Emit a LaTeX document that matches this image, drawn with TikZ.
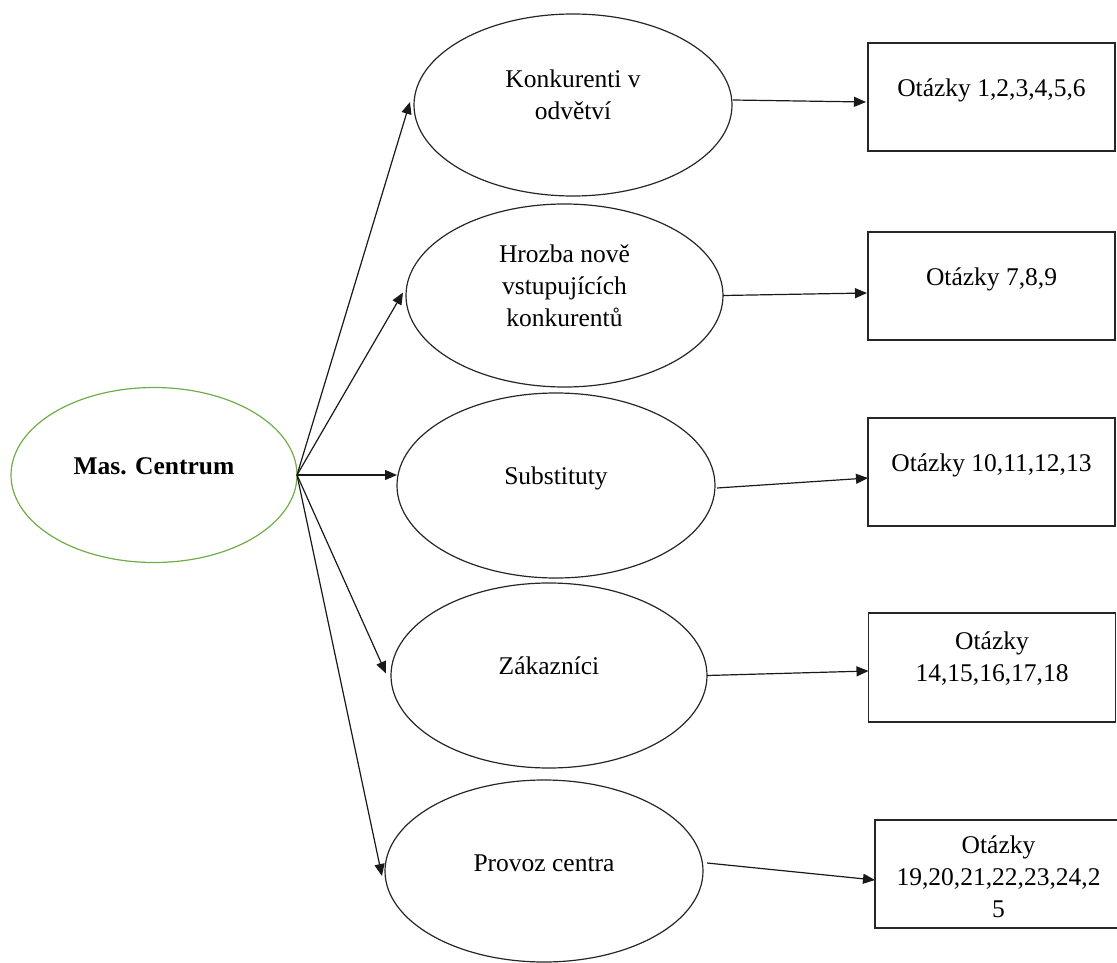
\documentclass[tikz,border=0pt]{standalone}
\usepackage{fontspec}
\setmainfont{Liberation Serif}
\usetikzlibrary{shapes.geometric,arrows.meta,calc}
\definecolor{ovalgreen}{HTML}{70AD47}
\newcommand\liftup[3]{\raisebox{0pt}[\dimexpr\height+#1\relax][\dimexpr\depth+#2\relax]{\begin{tabular}{@{}c@{}}#3\end{tabular}}}
\begin{document}
\begin{tikzpicture}[x=1pt,y=-1pt,
  every node/.style={font=\fontsize{25.5}{32}\selectfont, inner sep=0pt, outer sep=0pt},
  oval/.style={ellipse, draw=black!85, line width=1.2pt},
  rootoval/.style={ellipse, draw=ovalgreen, line width=1.2pt},
  qbox/.style={rectangle, draw=black!85, line width=1.2pt, minimum width=247pt, minimum height=108pt},
  link/.style={draw=black!90, line width=1.2pt, -{Triangle[length=12pt,width=10pt]}}
]
\useasboundingbox (0,0) rectangle (1117,963);

\node[rootoval, minimum width=286pt, minimum height=175pt] (mas) at (154,475) {\liftup{0pt}{14pt}{\textbf{Mas. Centrum}}};

\node[oval, minimum width=318pt, minimum height=182pt] (e1) at (573,105) {\liftup{0pt}{15pt}{Konkurenti v\\odvětví}};
\node[oval, minimum width=317pt, minimum height=183pt] (e2) at (564.5,295.5) {\liftup{0pt}{14pt}{Hrozba nově\\vstupujících\\konkurentů}};
\node[oval, minimum width=318pt, minimum height=185pt] (e3) at (556,485.5) {\liftup{0pt}{15pt}{Substituty}};
\node[oval, minimum width=316pt, minimum height=185pt] (e4) at (549,675.5) {\liftup{0pt}{15pt}{Zákazníci}};
\node[oval, minimum width=318pt, minimum height=182pt] (e5) at (544,871) {\liftup{0pt}{12pt}{Provoz centra}};

\node[qbox] (b1) at (991.5,97) {\liftup{0pt}{14pt}{Otázky 1,2,3,4,5,6}};
\node[qbox] (b2) at (991.5,286) {\liftup{0pt}{14pt}{Otázky 7,8,9}};
\node[qbox] (b3) at (991.5,472) {\liftup{0pt}{14pt}{Otázky 10,11,12,13}};
\node[qbox, minimum height=109pt] (b4) at (992,667.5) {\liftup{0pt}{16pt}{Otázky\\14,15,16,17,18}};
\node[qbox] (b5) at (998.5,874) {\liftup{10pt}{0pt}{Otázky\\19,20,21,22,23,24,2\\5}};

\draw[link] (mas.east) -- ($(e1.west)+(-4,-3)$);
\draw[link] (mas.east) -- ($(e2.west)+(-3,-3)$);
\draw[link] (mas.east) -- (e3.west |- mas.east);
\draw[link] (mas.east) -- ($(e4.west)+(-5,-2)$);
\draw[link] (mas.east) -- ($(e5.west)+(-3,5)$);

\draw[link] ($(e1.east)+(1,-5)$) -- ($(b1.west)+(-2,5)$);
\draw[link] (e2.east) -- ($(b2.west)+(-1,7)$);
\draw[link] ($(e3.east)+(2,2.5)$) -- ($(b3.west)+(0,6)$);
\draw[link] (e4.east) -- ($(b4.west)+(0,3.5)$);
\draw[link] ($(e5.east)+(4,-8)$) -- ($(b5.west)+(0,6)$);
\end{tikzpicture}
\end{document}
